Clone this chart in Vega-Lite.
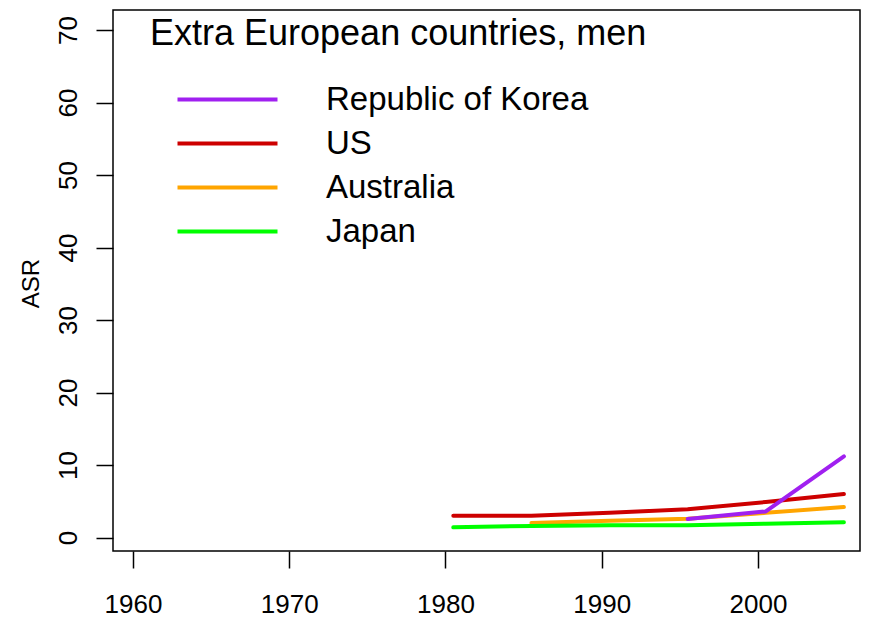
{
  "$schema": "https://vega.github.io/schema/vega-lite/v6.json",
  "width": 747,
  "height": 541,
  "autosize": "none",
  "padding": {"left": 113, "top": 10, "right": 14, "bottom": 68},
  "background": "white",
  "config": {
    "view": {"stroke": "black", "strokeWidth": 1.5},
    "font": "Liberation Sans"
  },
  "data": {
    "values": [
      {"country": "US", "year": 1980.5, "asr": 3.0},
      {"country": "US", "year": 1985.5, "asr": 3.0},
      {"country": "US", "year": 1990.5, "asr": 3.4},
      {"country": "US", "year": 1995.5, "asr": 3.9},
      {"country": "US", "year": 2000.5, "asr": 4.9},
      {"country": "US", "year": 2005.5, "asr": 6.0},
      {"country": "Australia", "year": 1985.5, "asr": 2.0},
      {"country": "Australia", "year": 1990.5, "asr": 2.3},
      {"country": "Australia", "year": 1995.5, "asr": 2.6},
      {"country": "Australia", "year": 2000.5, "asr": 3.4},
      {"country": "Australia", "year": 2005.5, "asr": 4.2},
      {"country": "Japan", "year": 1980.5, "asr": 1.4},
      {"country": "Japan", "year": 1985.5, "asr": 1.6},
      {"country": "Japan", "year": 1990.5, "asr": 1.7},
      {"country": "Japan", "year": 1995.5, "asr": 1.7},
      {"country": "Japan", "year": 2000.5, "asr": 1.9},
      {"country": "Japan", "year": 2005.5, "asr": 2.1},
      {"country": "Republic of Korea", "year": 1995.5, "asr": 2.55},
      {"country": "Republic of Korea", "year": 2000.5, "asr": 3.6},
      {"country": "Republic of Korea", "year": 2005.5, "asr": 11.2}
    ]
  },
  "mark": {"type": "line", "strokeWidth": 4, "strokeCap": "round", "strokeJoin": "round"},
  "encoding": {
    "x": {
      "field": "year",
      "type": "quantitative",
      "scale": {"domain": [1958.72, 2006.53], "nice": false, "zero": false},
      "axis": {
        "values": [1960, 1970, 1980, 1990, 2000],
        "format": "d",
        "grid": false,
        "domain": false,
        "tickColor": "black",
        "tickSize": 17,
        "tickWidth": 1.5,
        "labelFontSize": 26,
        "labelColor": "black",
        "labelPadding": 23,
        "title": null
      }
    },
    "y": {
      "field": "asr",
      "type": "quantitative",
      "scale": {"domain": [-1.86, 72.76], "nice": false, "zero": false},
      "axis": {
        "values": [0, 10, 20, 30, 40, 50, 60, 70],
        "grid": false,
        "domain": false,
        "tickColor": "black",
        "tickSize": 17,
        "tickWidth": 1.5,
        "labelFontSize": 26,
        "labelColor": "black",
        "labelAngle": -90,
        "labelAlign": "center",
        "labelBaseline": "alphabetic",
        "labelPadding": 20,
        "title": "ASR",
        "titleFontSize": 24,
        "titleFontWeight": "normal",
        "titleColor": "black",
        "titleX": -82,
        "titleY": 273,
        "titleAlign": "center",
        "titleBaseline": "middle",
        "titleAngle": -90
      }
    },
    "color": {
      "field": "country",
      "type": "nominal",
      "scale": {
        "domain": ["Republic of Korea", "US", "Australia", "Japan"],
        "range": ["#A020F0", "#CD0000", "#FFA500", "#00FF00"]
      },
      "legend": {
        "orient": "none",
        "legendX": 37,
        "legendY": 7,
        "title": "Extra European countries, men",
        "titleFontSize": 36,
        "titleFontWeight": "normal",
        "titleColor": "black",
        "titleLimit": 0,
        "titlePadding": 30,
        "symbolType": "M-5,0H5",
        "symbolSize": 400,
        "symbolStrokeWidth": 4,
        "symbolOffset": 61,
        "labelFontSize": 33,
        "labelColor": "black",
        "labelOffset": 82,
        "labelLimit": 0,
        "rowPadding": 10
      }
    }
  }
}
